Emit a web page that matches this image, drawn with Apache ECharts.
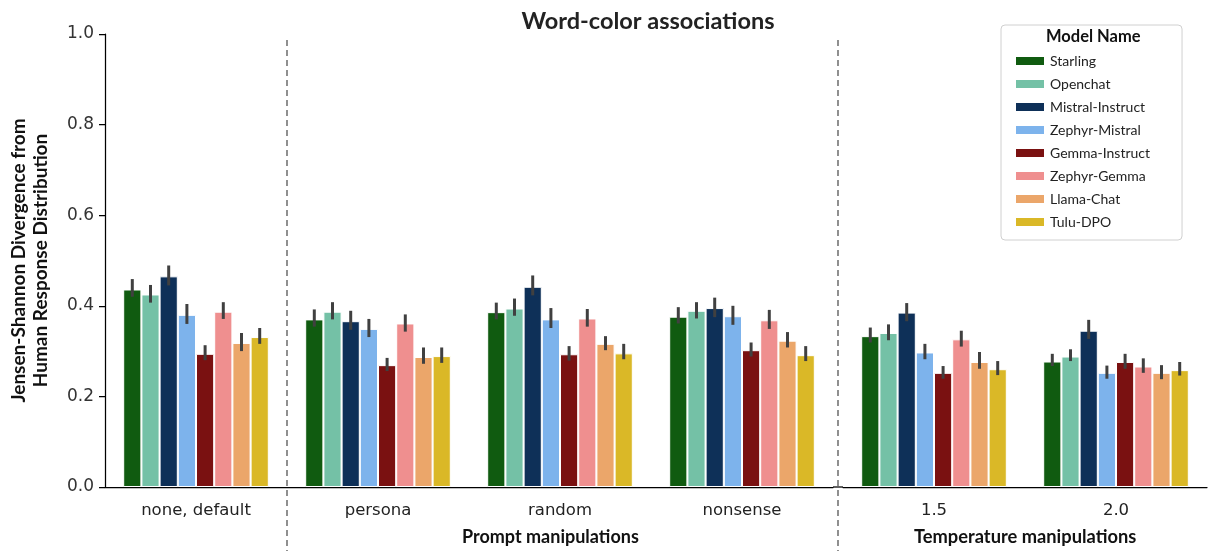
<!DOCTYPE html>
<html>
<head>
<meta charset="utf-8">
<script src="https://cdn.jsdelivr.net/npm/echarts@6/dist/echarts.min.js"></script>
<style>html,body{margin:0;padding:0;background:#fff}#chart{width:1208px;height:551px}</style>
</head>
<body>
<div id="chart"></div>
<script>
// ---- data ----
const promptCategories = ['none, default', 'persona', 'random', 'nonsense'];
const temperatureCategories = ['1.5', '2.0'];
const models = ['Starling', 'Openchat', 'Mistral-Instruct', 'Zephyr-Mistral', 'Gemma-Instruct', 'Zephyr-Gemma', 'Llama-Chat', 'Tulu-DPO'];
const modelColors = ['#105b10', '#74c1a6', '#0e3058', '#7db3ec', '#7a1111', '#ef8f8f', '#eba66a', '#dab827'];
const yTicks = [0, 0.2, 0.4, 0.6, 0.8, 1.0];

// mean values across: none default, persona, random, nonsense, 1.5, 2.0
const starling        = [0.436, 0.370, 0.386, 0.376, 0.333, 0.277];
const openchat        = [0.425, 0.387, 0.394, 0.389, 0.340, 0.288];
const mistralInstruct = [0.465, 0.366, 0.442, 0.395, 0.385, 0.345];
const zephyrMistral   = [0.380, 0.349, 0.370, 0.377, 0.297, 0.252];
const gemmaInstruct   = [0.294, 0.269, 0.293, 0.302, 0.252, 0.276];
const zephyrGemma     = [0.387, 0.361, 0.372, 0.368, 0.326, 0.266];
const llamaChat       = [0.318, 0.287, 0.316, 0.323, 0.276, 0.252];
const tuluDPO         = [0.331, 0.289, 0.295, 0.291, 0.260, 0.258];

// error bar lows / highs
const starlingLow        = [0.420, 0.354, 0.370, 0.361, 0.319, 0.267];
const starlingHigh       = [0.459, 0.392, 0.407, 0.397, 0.352, 0.294];
const openchatLow        = [0.407, 0.370, 0.378, 0.372, 0.324, 0.278];
const openchatHigh       = [0.446, 0.408, 0.416, 0.408, 0.359, 0.304];
const mistralInstructLow = [0.445, 0.347, 0.423, 0.375, 0.366, 0.327];
const mistralInstructHigh= [0.489, 0.389, 0.467, 0.418, 0.406, 0.369];
const zephyrMistralLow   = [0.360, 0.331, 0.351, 0.358, 0.282, 0.239];
const zephyrMistralHigh  = [0.404, 0.371, 0.395, 0.400, 0.316, 0.268];
const gemmaInstructLow   = [0.280, 0.256, 0.279, 0.288, 0.239, 0.261];
const gemmaInstructHigh  = [0.313, 0.285, 0.311, 0.319, 0.267, 0.294];
const zephyrGemmaLow     = [0.371, 0.343, 0.354, 0.349, 0.310, 0.252];
const zephyrGemmaHigh    = [0.408, 0.381, 0.393, 0.391, 0.345, 0.284];
const llamaChatLow       = [0.300, 0.272, 0.302, 0.308, 0.261, 0.238];
const llamaChatHigh      = [0.340, 0.308, 0.333, 0.342, 0.298, 0.269];
const tuluDPOLow         = [0.316, 0.274, 0.282, 0.278, 0.247, 0.246];
const tuluDPOHigh        = [0.351, 0.308, 0.316, 0.311, 0.278, 0.276];

// ---- build ----
const means = [starling, openchat, mistralInstruct, zephyrMistral, gemmaInstruct, zephyrGemma, llamaChat, tuluDPO];
const lows = [starlingLow, openchatLow, mistralInstructLow, zephyrMistralLow, gemmaInstructLow, zephyrGemmaLow, llamaChatLow, tuluDPOLow];
const highs = [starlingHigh, openchatHigh, mistralInstructHigh, zephyrMistralHigh, gemmaInstructHigh, zephyrGemmaHigh, llamaChatHigh, tuluDPOHigh];
const nLeft = promptCategories.length;

const G = { top: 34, height: 453, leftL: 105, widthL: 728, leftR: 843, widthR: 364 };

const series = [];
models.forEach((m, i) => {
  [0, 1].forEach(g => {
    series.push({
      type: 'bar', name: m, xAxisIndex: g, yAxisIndex: g,
      data: g === 0 ? means[i].slice(0, nLeft) : means[i].slice(nLeft),
      barGap: '0%', barCategoryGap: '20%',
      itemStyle: { color: modelColors[i], borderColor: '#ffffff', borderWidth: 1 },
      emphasis: { disabled: true }
    });
  });
});

function errData(g) {
  const out = [];
  models.forEach((m, i) => {
    const idx = g === 0 ? [...Array(nLeft).keys()] : [nLeft, nLeft + 1];
    idx.forEach((k, c) => out.push([c, i, lows[i][k], highs[i][k]]));
  });
  return out;
}
function renderErr(params, api) {
  const c = api.value(0), m = api.value(1);
  const band = api.size([1, 0])[0];
  const bw = band * 0.8 / models.length;
  const cx = api.coord([c, 0])[0] + (m - (models.length - 1) / 2) * bw;
  const y1 = api.coord([c, api.value(2)])[1];
  const y2 = api.coord([c, api.value(3)])[1];
  return { type: 'line', shape: { x1: cx, y1: y1, x2: cx, y2: y2 },
           style: { stroke: '#404040', lineWidth: 3, lineCap: 'butt' } };
}
[0, 1].forEach(g => series.push({
  type: 'custom', xAxisIndex: g, yAxisIndex: g, z: 5, silent: true,
  renderItem: renderErr, data: errData(g), encode: { x: 0, y: [2, 3] }
}));

const xAxisCommon = {
  type: 'category',
  axisLine: { lineStyle: { color: '#000', width: 1.25 } },
  axisTick: { alignWithLabel: true, length: 6, lineStyle: { color: '#000', width: 1.25 } },
  axisLabel: { fontFamily: 'DejaVu Sans', fontSize: 16.5, color: '#222', margin: 15 },
  splitLine: { show: false }
};

const option = {
  backgroundColor: '#fff',
  animation: false,
  title: {
    text: 'Word-color associations', left: 643, top: 4, textAlign: 'center',
    textStyle: { fontFamily: 'Lato', fontWeight: 'bold', fontSize: 23.5, color: '#222' }
  },
  legend: {
    data: models, orient: 'vertical', left: 1001, top: 25,
    itemWidth: 30, itemHeight: 10, itemGap: 9, icon: 'rect',
    padding: [29, 32, 11, 13],
    borderColor: '#d0d0d0', borderWidth: 1, borderRadius: 4, backgroundColor: '#fff',
    textStyle: { fontFamily: 'Lato', fontSize: 14, color: '#222', lineHeight: 14 },
    selectedMode: false
  },
  grid: [
    { left: G.leftL, top: G.top, width: G.widthL, height: G.height, outerBoundsMode: 'none' },
    { left: G.leftR, top: G.top, width: G.widthR, height: G.height, outerBoundsMode: 'none' }
  ],
  xAxis: [
    Object.assign({ gridIndex: 0, data: promptCategories }, xAxisCommon),
    Object.assign({ gridIndex: 1, data: temperatureCategories }, xAxisCommon)
  ],
  yAxis: [
    {
      type: 'value', gridIndex: 0, min: yTicks[0], max: yTicks[yTicks.length - 1], interval: 0.2,
      axisLine: { show: true, lineStyle: { color: '#000', width: 1.25 } },
      axisTick: { show: true, length: 6, lineStyle: { color: '#000', width: 1.25 } },
      axisLabel: { fontFamily: 'DejaVu Sans', fontSize: 17, color: '#333', margin: 11,
                   formatter: v => v.toFixed(1) },
      splitLine: { show: false },
      name: 'Jensen-Shannon Divergence from\nHuman Response Distribution',
      nameLocation: 'middle', nameRotate: 90, nameGap: 53,
      nameTextStyle: { fontFamily: 'Lato', fontWeight: 'bold', fontSize: 19, lineHeight: 22, color: '#111', align: 'center' }
    },
    {
      type: 'value', gridIndex: 1, min: yTicks[0], max: yTicks[yTicks.length - 1], interval: 0.2,
      show: false, splitLine: { show: false }
    }
  ],
  series: series,
  graphic: [
    { type: 'line', shape: { x1: G.leftL + G.widthL, y1: G.top + G.height, x2: G.leftR, y2: G.top + G.height },
      style: { stroke: '#000', lineWidth: 1.25 } },
    { type: 'line', shape: { x1: G.leftL + G.widthL / nLeft, y1: 40, x2: G.leftL + G.widthL / nLeft, y2: 551 },
      style: { stroke: '#555', lineWidth: 1.3, lineDash: [6, 4] }, z: 10 },
    { type: 'line', shape: { x1: (G.leftL + G.widthL + G.leftR) / 2, y1: 40, x2: (G.leftL + G.widthL + G.leftR) / 2, y2: 551 },
      style: { stroke: '#555', lineWidth: 1.3, lineDash: [6, 4] }, z: 10 },
    { type: 'text', left: 462, top: 528,
      style: { text: 'Prompt manipulations', font: 'bold 18px Lato', fill: '#111' } },
    { type: 'text', left: 914, top: 528,
      style: { text: 'Temperature manipulations', font: 'bold 18.3px Lato', fill: '#111' } },
    { type: 'text', left: 1046, top: 28, z: 20,
      style: { text: 'Model Name', font: 'bold 16.5px Lato', fill: '#111' } }
  ]
};

const chart = echarts.init(document.getElementById('chart'), null, { renderer: 'canvas' });
chart.setOption(option);
</script>
</body>
</html>
